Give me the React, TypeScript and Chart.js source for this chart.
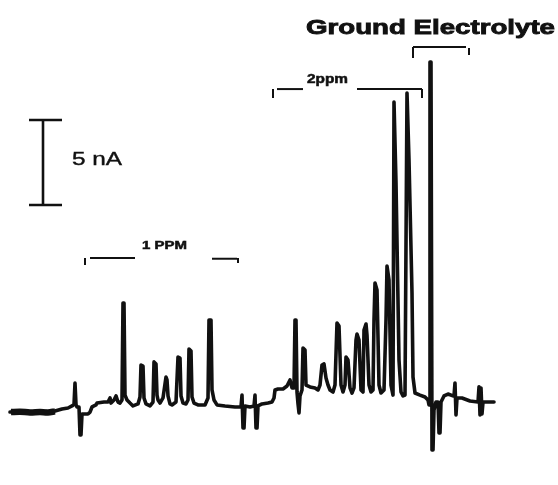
import React, { useEffect, useRef } from "react";
import { Chart, registerables } from "chart.js";

Chart.register(...registerables);

// Time axis (s) and current (nA, relative to the starting baseline)
const timeS = [
  10, 20, 30, 38, 42, 46, 50, 55, 62, 68, 72, 74, 75, 76, 77, 79, 80, 81, 82, 88,
  90, 92, 96, 97, 104, 108, 110, 111, 114, 116, 118, 120, 122, 123, 124, 125, 127, 130, 133, 138,
  140, 141, 143, 144, 146, 150, 153, 154, 156, 157, 158, 160, 163, 166, 167, 168, 170, 172, 176, 178,
  180, 181, 183, 186, 188, 189, 191, 192, 194, 198, 205, 208, 209, 211, 212, 214, 217, 225, 235, 241,
  242, 243, 244, 245, 250, 254, 255, 256, 257, 258, 262, 268, 272, 274, 275, 278, 283, 287, 290, 292,
  294, 295, 296, 297, 298, 299, 300, 302, 303, 305, 306, 310, 315, 318, 320, 322, 324, 326, 328, 330,
  333, 335, 337, 339, 341, 343, 345, 346, 348, 350, 352, 354, 356, 357, 359, 361, 363, 364, 366, 367,
  369, 371, 373, 374, 375, 377, 379, 381, 384, 386, 387, 389, 391, 393, 394, 396, 399, 401, 403, 405,
  407, 409, 412, 413, 415, 420, 425, 428, 429, 430, 431, 432, 433, 434, 436, 438, 439, 440, 441, 444,
  448, 453, 454, 455, 456, 457, 462, 470, 478, 479, 480, 481, 482, 483, 488, 494,
];

const currentNA = [
  -0.24, -0.22, -0.26, -0.2, -0.3, -0.2, -0.26, -0.18, -0.06, 0, 0.12, 0.2, 1.47, 0.2, 0.06, 0.06, -1.59, -1.59, -0.35, -0.35,
  -0.24, 0.06, 0.18, 0.29, 0.35, 0.35, 0.59, 0.29, 0.47, 0.71, 0.35, 0.29, 0.47, 6.18, 6.18, 0.76, 0.47, 0.29, 0.12, 0.24,
  0.65, 2.53, 2.47, 0.59, 0.24, 0.12, 0.35, 2.71, 2.59, 0.76, 0.47, 0.29, 0.59, 1.82, 1.65, 0.71, 0.24, 0.18, 0.35, 3.0,
  2.94, 0.71, 0.29, 0.24, 0.47, 3.47, 3.35, 0.65, 0.29, 0.18, 0.18, 0.59, 5.18, 5.18, 1.06, 0.47, 0.18, 0.12, 0.06, 0.06,
  0.76, -1.18, -1.18, 0.12, 0.06, 0.12, 0.76, -1.18, -1.18, 0.12, 0.24, 0.29, 0.35, 0.59, 1.06, 1.12, 1.12, 1.29, 1.65, 1.18,
  1.18, 5.18, 5.18, 0.94, 0.24, -0.29, 0.71, 1.06, 3.53, 3.41, 1.35, 1.24, 1.18, 1.06, 1.35, 2.53, 2.59, 1.76, 1.35, 1.06,
  0.94, 1.35, 5.0, 4.82, 1.35, 0.94, 1.35, 3.0, 2.82, 1.18, 0.88, 1.18, 4.0, 4.35, 4.0, 1.06, 0.94, 4.59, 4.94, 4.29,
  1.35, 0.94, 1.06, 5.18, 7.35, 6.94, 1.35, 0.88, 1.06, 5.18, 8.35, 7.53, 1.35, 0.76, 18.0, 13.24, 2.82, 0.94, 0.71, 0.76,
  18.53, 14.59, 6.76, 1.82, 0.88, 0.76, 0.65, 0.47, 0.18, 20.35, 20.35, -2.47, -2.47, -0.12, 0.35, 0.35, -1.47, -1.47, 0.35, 0.71,
  0.82, 0.71, 0.71, 1.47, -0.41, 0.59, 0.59, 0.41, 0.35, 1.24, -0.41, 1.18, -0.35, 0.35, 0.35, 0.35,
];

// Noisy starting baseline (drawn as a thicker band)
const noiseTimeS = [11, 20, 30, 40, 48, 55];
const noiseNA = [-0.24, -0.22, -0.26, -0.24, -0.26, -0.2];

// Axis ranges (time in s, current in nA)
const timeRange = [0, 558];
const currentRange = [-4.53, 24.0];

// Annotation segments: [t1, i1, t2, i2] in data units
const scaleBarSegments = [
  [43, 11.94, 43, 16.94],
  [29, 16.94, 62, 16.94],
  [29, 11.94, 62, 11.94],
];
const onePpmSegments = [
  [85, 8.82, 85, 8.41],
  [90, 8.82, 135, 8.82],
  [212, 8.78, 237, 8.78],
  [238, 8.82, 238, 8.53],
];
const twoPpmSegments = [
  [273, 18.76, 273, 18.24],
  [277, 18.76, 303, 18.76],
  [357, 18.76, 422, 18.76],
  [422, 18.76, 422, 18.24],
];
const groundSegments = [
  [413, 21.24, 413, 20.59],
  [413, 21.24, 466, 21.24],
  [469, 21.18, 469, 20.76],
];

// Labels: text, start time, end time, current (center), font size, weight
const labelTexts = ["5 nA", "1 PPM", "2ppm", "Ground Electrolyte"];
const labelStart = [72, 142, 307, 306];
const labelEnd = [122, 187, 348, 555];
const labelLevel = [14.59, 9.53, 19.29, 22.35];
const labelSize = [18, 11, 12, 21];
const labelWeight = ["normal", "bold", "bold", "bold"];
const labelStroke = [0.4, 0.5, 0.5, 0.9];

const annotationPlugin = {
  id: "traceAnnotations",
  afterDatasetsDraw(chart: any) {
    const { ctx } = chart;
    const xs = chart.scales.x;
    const ys = chart.scales.y;
    const drawSegs = (segs: number[][], w: number) => {
      ctx.save();
      ctx.strokeStyle = "#111";
      ctx.lineWidth = w;
      ctx.lineCap = "butt";
      segs.forEach((s) => {
        ctx.beginPath();
        ctx.moveTo(xs.getPixelForValue(s[0]), ys.getPixelForValue(s[1]));
        ctx.lineTo(xs.getPixelForValue(s[2]), ys.getPixelForValue(s[3]));
        ctx.stroke();
      });
      ctx.restore();
    };
    drawSegs(scaleBarSegments, 2.6);
    drawSegs(onePpmSegments, 2);
    drawSegs(twoPpmSegments, 2);
    drawSegs(groundSegments, 2);

    labelTexts.forEach((t, i) => {
      ctx.save();
      ctx.fillStyle = "#111";
      ctx.strokeStyle = "#111";
      ctx.font = `${labelWeight[i]} ${labelSize[i]}px "Liberation Sans", Arial, sans-serif`;
      ctx.textBaseline = "middle";
      ctx.textAlign = "left";
      const x0 = xs.getPixelForValue(labelStart[i]);
      const x1 = xs.getPixelForValue(labelEnd[i]);
      const y = ys.getPixelForValue(labelLevel[i]);
      const w = ctx.measureText(t).width;
      const sx = (x1 - x0) / w;
      ctx.translate(x0, y);
      ctx.scale(sx, 1);
      ctx.lineWidth = labelStroke[i];
      ctx.fillText(t, 0, 0);
      ctx.strokeText(t, 0, 0);
      ctx.restore();
    });
  },
};

export default function App() {
  const ref = useRef<HTMLCanvasElement>(null);
  useEffect(() => {
    if (!ref.current) return;
    const chart = new Chart(ref.current, {
      type: "line",
      data: {
        datasets: [
          {
            data: timeS.map((t, i) => ({ x: t, y: currentNA[i] })),
            borderColor: "#111",
            borderWidth: 3.6,
            pointRadius: 0,
            tension: 0,
            borderJoinStyle: "round",
            borderCapStyle: "round",
            fill: false,
          },
          {
            data: noiseTimeS.map((t, i) => ({ x: t, y: noiseNA[i] })),
            borderColor: "#111",
            borderWidth: 6.5,
            pointRadius: 0,
            tension: 0.3,
            borderCapStyle: "butt",
            fill: false,
          },
        ],
      },
      options: {
        animation: false,
        responsive: false,
        devicePixelRatio: 1,
        layout: { padding: 0 },
        plugins: { legend: { display: false }, tooltip: { enabled: false } },
        scales: {
          x: { type: "linear", min: timeRange[0], max: timeRange[1], display: false },
          y: { type: "linear", min: currentRange[0], max: currentRange[1], display: false },
        },
      },
      plugins: [annotationPlugin],
    });
    return () => chart.destroy();
  }, []);
  return (
    <div style={{ position: "fixed", left: 0, top: 0, width: 558, height: 485, background: "#fff" }}>
      <canvas ref={ref} width={558} height={485} />
    </div>
  );
}
